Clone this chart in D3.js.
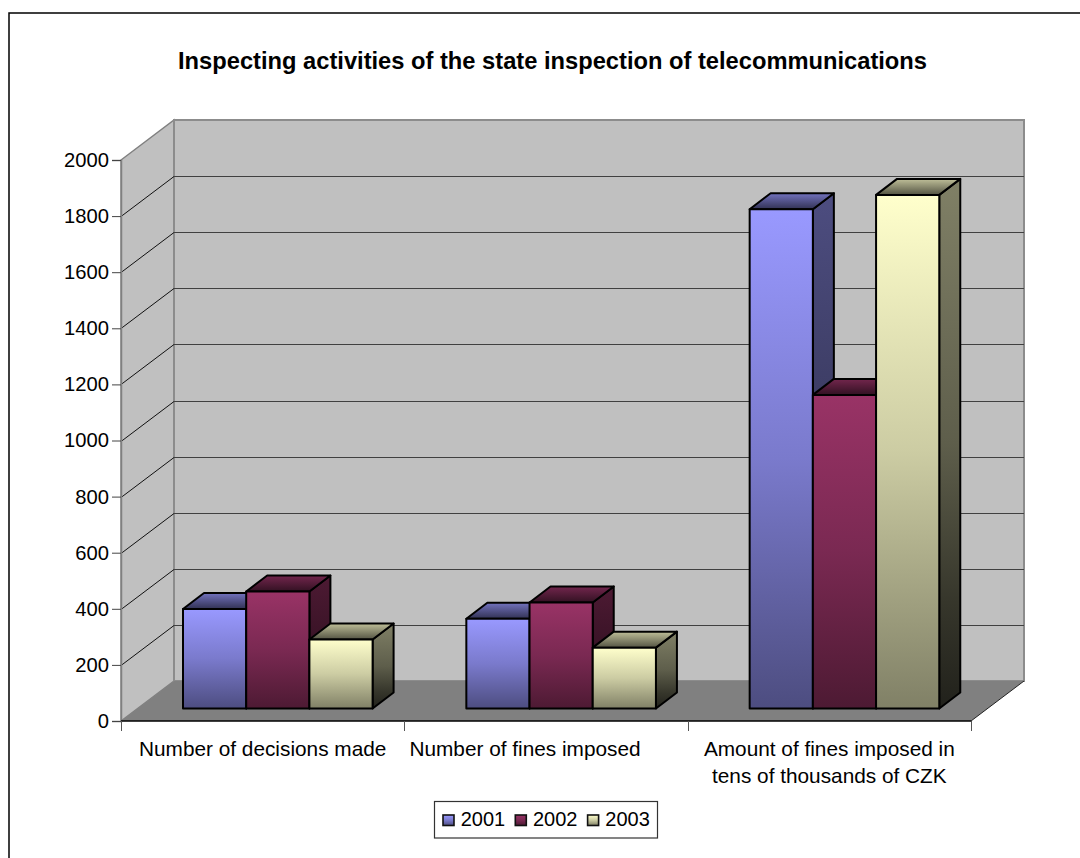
<!DOCTYPE html>
<html>
<head>
<meta charset="utf-8">
<script src="https://cdn.jsdelivr.net/npm/d3@7"></script>
<style>
  html, body { margin: 0; background: #fff; overflow: hidden; }
  text { font-family: "Liberation Sans", Arial, sans-serif; fill: #000; }
</style>
</head>
<body>
<div id="chart"></div>
<script>
const categories = [["Number of decisions made"], ["Number of fines imposed"], ["Amount of fines imposed in", "tens of thousands of CZK"]];
const years = ["2001", "2002", "2003"];
const values2001 = [355, 320, 1780];
const values2002 = [417, 378, 1118];
const values2003 = [246, 217, 1831];
const yTicks = [0, 200, 400, 600, 800, 1000, 1200, 1400, 1600, 1800, 2000];
const title = "Inspecting activities of the state inspection of telecommunications";

const series = [values2001, values2002, values2003];
const baseColors = ["#9999ff", "#993366", "#ffffcc"];

const svg = d3.select("#chart").append("svg")
  .attr("width", 1080)
  .attr("height", 858)
  .style("display", "block");

const defs = svg.append("defs");

// front, side and top gradients for each series; shade() darkens toward black
function addGradient(id, stops) {
  const lg = defs.append("linearGradient").attr("id", id)
    .attr("x1", 0).attr("y1", 0).attr("x2", 0).attr("y2", 1);
  stops.forEach(s => lg.append("stop").attr("offset", s[0]).attr("stop-color", s[1]));
}
baseColors.forEach((c, i) => {
  const shade = k => d3.interpolateRgb("#000", c)(k);
  addGradient("front" + i, [[0, shade(1)], [0.5, shade(0.8)], [1, shade(0.5)]]);
  addGradient("side" + i, [[0, shade(0.5)], [0.5, shade(0.37)], [0.8, shade(0.21)], [1, shade(0.13)]]);
  addGradient("roof" + i, [[0, shade(0.75)], [1, shade(0.33)]]);
});

// chart frame, its right and bottom edges run off the page
svg.append("rect")
  .attr("x", 9).attr("y", 13)
  .attr("width", 1200).attr("height", 1000)
  .attr("fill", "#fff").attr("stroke", "#000").attr("stroke-width", 1.5);

svg.append("text")
  .attr("x", 552.5).attr("y", 69)
  .attr("text-anchor", "middle")
  .attr("font-size", 23.7).attr("font-weight", "bold")
  .text(title);

// scales for the front plane of the box
const y = d3.scaleLinear().domain([0, 2000]).range([721, 160]);
const x = d3.scaleBand().domain(d3.range(categories.length)).range([121, 971]);
const depthX = 53, depthY = 40;
const [xL, xR] = x.range();

const line = d3.line();

// left wall, back wall, floor
svg.append("path")
  .attr("d", line([[xL, y(0)], [xL, y(2000)], [xL + depthX, y(2000) - depthY], [xL + depthX, y(0) - depthY]]) + "Z")
  .attr("fill", "#c0c0c0").attr("stroke", "#808080").attr("stroke-width", 1.5);
svg.append("rect")
  .attr("x", xL + depthX).attr("y", y(2000) - depthY)
  .attr("width", xR - xL).attr("height", y(0) - y(2000))
  .attr("fill", "#c0c0c0").attr("stroke", "#8c8c8c").attr("stroke-width", 2);
svg.append("path")
  .attr("d", line([[xL, y(0)], [xL + depthX, y(0) - depthY], [xR + depthX, y(0) - depthY], [xR, y(0)]]) + "Z")
  .attr("fill", "#808080");

// gridlines, wrapping from the left wall onto the back wall
const grid = svg.append("g");
yTicks.slice(1, -1).forEach(t => {
  const py = Math.round(y(t)) + 0.5;
  grid.append("path")
    .attr("d", line([[xL, py], [xL + depthX, py - depthY]]))
    .attr("fill", "none").attr("stroke", "#111").attr("stroke-width", 1);
  grid.append("path")
    .attr("d", line([[xL + depthX, py - depthY], [xR + depthX, py - depthY]]))
    .attr("fill", "none").attr("stroke", "#404040").attr("stroke-width", 1.2);
});

// axes
const axisLeft = d3.axisLeft(y).tickValues(yTicks).tickSize(9).tickPadding(3).tickFormat(d3.format("d"));
const gy = svg.append("g").attr("transform", "translate(121,0)").call(axisLeft);
gy.select(".domain").attr("stroke", "#808080").attr("stroke-width", 1.5);
gy.selectAll(".tick line").attr("stroke", "#444");
gy.selectAll("text").attr("font-size", 20.2).attr("font-family", null);

const gx = svg.append("g");
gx.append("line")
  .attr("x1", xL).attr("x2", xR)
  .attr("y1", y(0)).attr("y2", y(0))
  .attr("stroke", "#000").attr("stroke-width", 1.5);
d3.range(categories.length + 1).forEach(i => {
  const px = Math.round(xL + i * x.step()) + 0.5;
  gx.append("line")
    .attr("x1", px).attr("x2", px)
    .attr("y1", y(0)).attr("y2", y(0) + 10)
    .attr("stroke", "#555");
});
gx.append("line")
  .attr("x1", xR).attr("y1", y(0))
  .attr("x2", xR + depthX).attr("y2", y(0) - depthY)
  .attr("stroke", "#222");

// the middle label sits left of its band centre
const labelShift = [0, -21, 0];
categories.forEach((lines, i) => {
  lines.forEach((s, j) => {
    gx.append("text")
      .attr("x", x(i) + x.step() / 2 + labelShift[i])
      .attr("y", 756 + j * 27)
      .attr("text-anchor", "middle")
      .attr("font-size", 20.8)
      .text(s);
  });
});

// 3D bars, sitting part way into the box depth
const barBase = 708.5;
const barScale = d3.scaleLinear().domain([0, 2000]).range([0, y(0) - y(2000)]);
const groupInset = 62;
const barWidth = 63.2;
const barDepthX = 21, barDepthY = 16;

const bars = [];
series.forEach((vals, s) => vals.forEach((v, c) => bars.push({ s, c, v })));

const barsG = svg.append("g").attr("stroke", "#000").attr("stroke-width", 2).attr("stroke-linejoin", "round");
bars.forEach(d => {
  const x0 = x(d.c) + groupInset + d.s * barWidth;
  const x1 = x0 + barWidth;
  const top = barBase - barScale(d.v);
  const g = barsG.append("g");
  g.append("path")
    .attr("d", line([[x1, top], [x1 + barDepthX, top - barDepthY], [x1 + barDepthX, barBase - barDepthY], [x1, barBase]]) + "Z")
    .attr("fill", `url(#side${d.s})`);
  g.append("path")
    .attr("d", line([[x0, top], [x0 + barDepthX, top - barDepthY], [x1 + barDepthX, top - barDepthY], [x1, top]]) + "Z")
    .attr("fill", `url(#roof${d.s})`);
  g.append("rect")
    .attr("x", x0).attr("y", top)
    .attr("width", barWidth).attr("height", barBase - top)
    .attr("fill", `url(#front${d.s})`);
});

// legend
const legend = svg.append("g");
legend.append("rect")
  .attr("x", 434.5).attr("y", 801.5)
  .attr("width", 223).attr("height", 36.5)
  .attr("fill", "#fff").attr("stroke", "#333").attr("stroke-width", 1.2);
years.forEach((yr, i) => {
  const lx = 443 + i * 72.3;
  legend.append("rect")
    .attr("x", lx).attr("y", 815)
    .attr("width", 11).attr("height", 10.5)
    .attr("fill", `url(#front${i})`)
    .attr("stroke", "#111").attr("stroke-width", 1.6);
  legend.append("text")
    .attr("x", lx + 17.7).attr("y", 825.5)
    .attr("font-size", 20)
    .text(yr);
});
</script>
</body>
</html>
